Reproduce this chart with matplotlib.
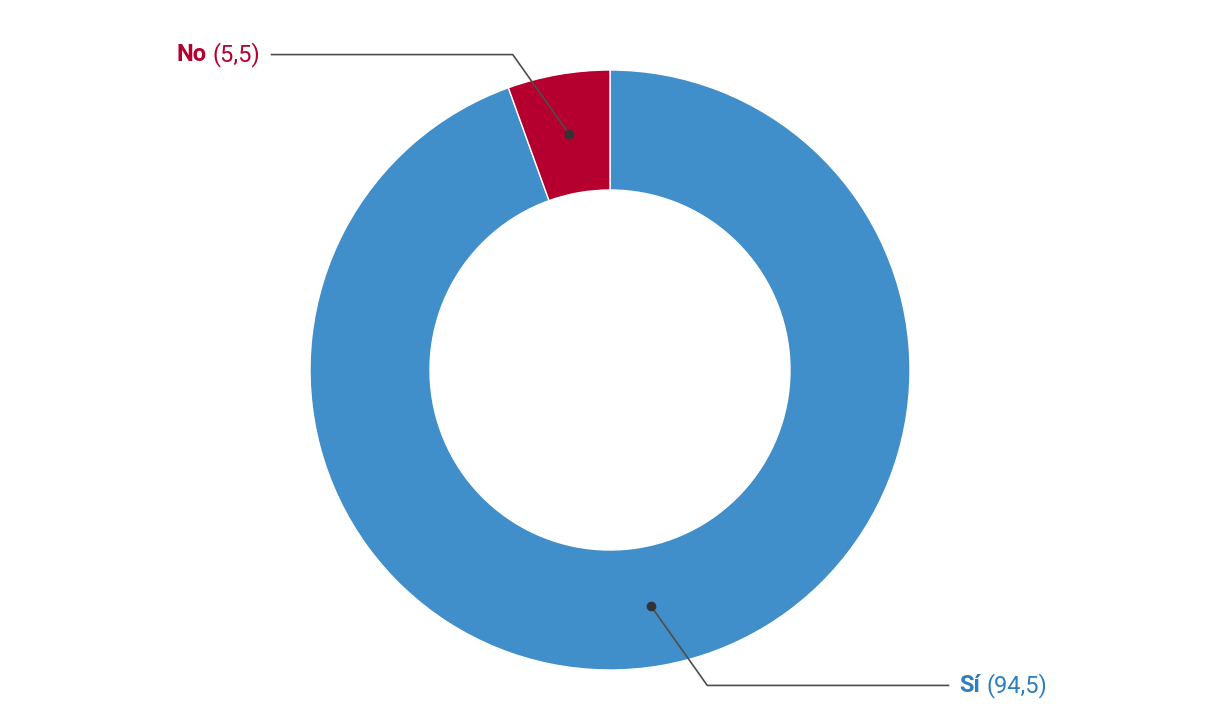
import numpy as np
import matplotlib.pyplot as plt

labels = ["Sí", "No"]
values = [94.5, 5.5]
value_labels = ["(94,5)", "(5,5)"]
slice_colors = ["#418fca", "#b5002f"]
text_colors = ["#2f7fbf", "#b5002f"]

plt.rcParams["font.family"] = ["Roboto", "DejaVu Sans"]

W, H = 1220, 720
fig = plt.figure(figsize=(W / 100, H / 100), dpi=100)
ax = fig.add_axes([0, 0, 1, 1])
ax.set_xlim(0, W)
ax.set_ylim(0, H)
ax.set_aspect("equal")
ax.axis("off")

center = (610, 350)
outer_r = 300
ring = 120

wedges, _ = ax.pie(
    values,
    colors=slice_colors,
    startangle=90,
    counterclock=False,
    radius=outer_r,
    center=center,
    wedgeprops=dict(width=ring, edgecolor="white", linewidth=1),
    frame=True,
)
ax.set_xlim(0, W)
ax.set_ylim(0, H)
ax.axis("off")

renderer = fig.canvas.get_renderer()
line_color = "#4d4d4d"
mid_r = outer_r - ring / 2

for wedge, label, vlabel, tcolor in zip(wedges, labels, value_labels, text_colors):
    ang = np.deg2rad((wedge.theta1 + wedge.theta2) / 2)
    dx, dy = np.cos(ang), np.sin(ang)
    px, py = center[0] + mid_r * dx, center[1] + mid_r * dy
    side = -1 if dx < 0 else 1
    up = 1 if dy > 0 else -1
    ex, ey = px + side * 56, py + up * 79
    hx = ex + side * 242
    ax.plot([px, ex, hx], [py, ey, ey], color=line_color, lw=1.2,
            solid_capstyle="butt", zorder=3)
    ax.plot(px, py, "o", color="#333333", ms=6, zorder=4)

    if side < 0:
        vt = ax.text(hx - 10, ey, vlabel, ha="right", va="center",
                     fontsize=17, color=tcolor)
        bb = vt.get_window_extent(renderer)
        ax.text(bb.x0 - 6, ey, label, ha="right", va="center",
                fontsize=17, fontweight="bold", color=tcolor)
    else:
        lt = ax.text(hx + 10, ey, label, ha="left", va="center",
                     fontsize=17, fontweight="bold", color=tcolor)
        bb = lt.get_window_extent(renderer)
        ax.text(bb.x1 + 6, ey, vlabel, ha="left", va="center",
                fontsize=17, color=tcolor)

fig.savefig("out.png", dpi=100)
